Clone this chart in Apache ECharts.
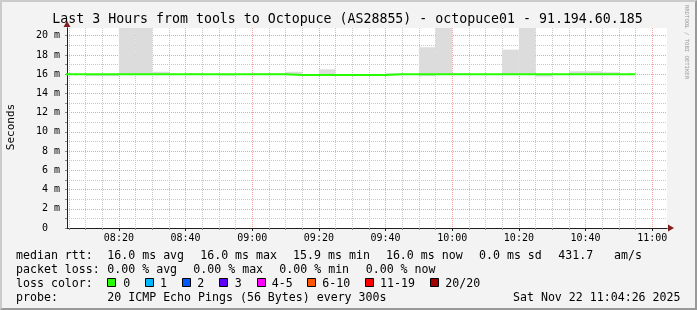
<!DOCTYPE html>
<html><head><meta charset="utf-8">
<script src="https://cdn.jsdelivr.net/npm/echarts@6/dist/echarts.min.js"></script>
<style>
html,body{margin:0;padding:0;}
#bg{position:absolute;left:0;top:0;width:697px;height:310px;box-sizing:border-box;background:#f3f3f3;border-top:2px solid #cbcbcb;border-left:2px solid #cbcbcb;border-right:2px solid #999;border-bottom:2px solid #999;}
#chart{position:absolute;left:0;top:0;width:697px;height:310px;}
</style></head><body><div id="bg"></div><div id="chart"></div>
<script>
// ---- data ----
const binTimes = ['08:00','08:05','08:10','08:15','08:20','08:25','08:30','08:35','08:40','08:45','08:50','08:55',
  '09:00','09:05','09:10','09:15','09:20','09:25','09:30','09:35','09:40','09:45','09:50','09:55',
  '10:00','10:05','10:10','10:15','10:20','10:25','10:30','10:35','10:40','10:45','10:50'];
const medianRtt = [16.0,16.0,16.0,16.0,16.0,16.0,16.0,16.0,16.0,16.0,16.0,16.0,
  16.0,16.0,15.9,15.9,15.9,15.9,15.9,15.9,16.0,16.0,16.0,16.0,
  16.0,16.0,16.0,16.0,16.0,16.0,16.0,16.0,16.0,16.0,16.0];
const smokeLow = [16.0,16.0,15.8,15.8,15.9,15.9,16.0,16.0,16.0,16.0,15.85,16.0,
  16.0,16.0,15.9,15.9,15.9,15.9,15.9,15.85,16.0,16.0,15.8,16.0,
  16.0,16.0,16.0,15.9,16.0,15.75,16.0,16.0,16.0,16.0,16.0];
const smokeHigh = [16.0,16.0,16.0,16.0,22.0,22.0,16.25,16.0,16.1,16.0,16.0,16.0,
  16.1,16.1,16.25,15.9,16.5,15.9,15.9,15.9,16.1,16.0,18.8,22.0,
  16.1,16.0,16.0,18.55,22.0,16.0,16.0,16.3,16.3,16.2,16.0];
const dataEnd = '10:55';
const viewStart = '08:04:26', viewEnd = '11:04:26';
const xTickLabels = ['08:20','08:40','09:00','09:20','09:40','10:00','10:20','10:40','11:00'];
const yTickLabels = [0,2,4,6,8,10,12,14,16,18,20];
const yMax = 20.8;
const titleText = 'Last 3 Hours from tools to Octopuce (AS28855) - octopuce01 - 91.194.60.185';
const rttStats = ['16.0','16.0','15.9','16.0']; // avg max min now
const rttSd = '0.0', amPerS = '431.7';
const lossStats = ['0.00','0.00','0.00','0.00'];
const lossLabels = ['0','1','2','3','4-5','6-10','11-19','20/20'];
const lossColors = ['#26ff00','#00b8ff','#0059ff','#5e00ff','#ff00ff','#ff5500','#ff0000','#a00000'];
const probeText = '20 ICMP Echo Pings (56 Bytes) every 300s';
const stampText = 'Sat Nov 22 11:04:26 2025';

// ---- helpers ----
function toMin(s){const p=s.split(':').map(Number);return p[0]*60+p[1]+(p[2]||0)/60;}
function fmt(v){const h=Math.floor(v/60+1e-6), m=Math.round(v-h*60);return String(h).padStart(2,'0')+':'+String(m).padStart(2,'0');}
const xMin = toMin(viewStart), xMax = toMin(viewEnd);
const majorX = xTickLabels.map(toMin);
const minorX = [];
for (let v = Math.ceil(xMin/5)*5; v <= xMax; v += 5) if (majorX.indexOf(v) < 0) minorX.push(v);
const majorY = yTickLabels;
const minorY = [];
for (let v = 1; v < yMax; v += 2) minorY.push(v);

const MONO = 'DejaVu Sans Mono';
const FS = 11.6;
const smokeData = binTimes.map((t,i)=>[toMin(t), i+1<binTimes.length?toMin(binTimes[i+1]):toMin(dataEnd), smokeLow[i], smokeHigh[i]]);
const lineData = binTimes.map((t,i)=>[toMin(t), medianRtt[i]]);
lineData.push([toMin(dataEnd), medianRtt[medianRtt.length-1]]);

function txt(text, x, y, align){
  return {type:'text', x:x, y:y, silent:true, style:{text:text, fontFamily:MONO, fontSize:FS, fill:'#000', align:align||'left', verticalAlign:'middle'}};
}
const g = [];
g.push({type:'text', x:347.5, y:20, silent:true, style:{text:titleText, fontFamily:MONO, fontSize:13.25, fill:'#000', align:'center', verticalAlign:'middle'}});
g.push({type:'text', x:11.5, y:127, rotation:Math.PI/2, silent:true, style:{text:'Seconds', fontFamily:MONO, fontSize:11, fill:'#000', align:'center', verticalAlign:'middle'}});
g.push({type:'text', x:686, y:5, rotation:-Math.PI/2, silent:true, style:{text:'RRDTOOL / TOBI OETIKER', fontFamily:MONO, fontSize:5.6, fill:'#999', align:'left', verticalAlign:'middle'}});
const L1=255.5, L2=269.5, L3=283.5, L4=297.5;
g.push(txt('median rtt:',16,L1));
g.push(txt(rttStats[0]+' ms avg',107.3,L1));
g.push(txt(rttStats[1]+' ms max',200.2,L1));
g.push(txt(rttStats[2]+' ms min',293.1,L1));
g.push(txt(rttStats[3]+' ms now',385.9,L1));
g.push(txt(rttSd+' ms sd',479,L1));
g.push(txt(amPerS,558.3,L1));
g.push(txt('am/s',614,L1));
g.push(txt('packet loss:',16,L2));
g.push(txt(lossStats[0]+' % avg',107.3,L2));
g.push(txt(lossStats[1]+' % max',193.3,L2));
g.push(txt(lossStats[2]+' % min',279.3,L2));
g.push(txt(lossStats[3]+' % now',365.7,L2));
g.push(txt('loss color:',16,L3));
const boxX = [107.3,145.3,182,219.3,256.7,307.3,365.3,430.3];
const labX = [123.3,160,197.3,234.7,271.7,322.3,380,445.3];
lossLabels.forEach((l,i)=>{
  g.push({type:'rect', silent:true, shape:{x:Math.round(boxX[i])+0.5, y:278.5, width:8, height:8}, style:{fill:lossColors[i], stroke:'#000', lineWidth:1}});
  g.push(txt(l,labX[i],L3));
});
g.push(txt('probe:',16,L4));
g.push(txt(probeText,107.3,L4));
g.push(txt(stampText,680.5,L4,'right'));

const AXC = '#1f1f1f', ARROW = '#7f1f1f';
const chart = echarts.init(document.getElementById('chart'), null, {renderer:'canvas'});
chart.setOption({
  animation:false,
  backgroundColor:'transparent',
  grid:{left:67, top:28, width:600, height:200, show:true, backgroundColor:'#ffffff', borderWidth:0},
  xAxis:[
    {type:'value', min:xMin, max:xMax, position:'bottom',
     axisLine:{show:true, symbol:['none','triangle'], symbolSize:[7,6], symbolOffset:[0,4], lineStyle:{color:ARROW, width:1}},
     axisTick:{show:true, customValues:minorX, length:2, inside:false, lineStyle:{color:'#888'}},
     axisLabel:{show:false},
     splitLine:{show:true, lineStyle:{color:'#c8c8c8', type:'dotted', width:1}}},
    {type:'value', min:xMin, max:xMax, position:'bottom',
     axisLine:{show:true, lineStyle:{color:AXC, width:1}},
     axisTick:{show:true, customValues:majorX, length:3, lineStyle:{color:AXC}},
     axisLabel:{customValues:majorX, formatter:fmt, fontFamily:MONO, fontSize:10, color:'#000', margin:5},
     splitLine:{show:true, lineStyle:{color:'#f0a0a0', type:'dotted', width:1}}}
  ],
  yAxis:[
    {type:'value', min:0, max:yMax, position:'left',
     axisLine:{show:true, symbol:['none','triangle'], symbolSize:[7,6], symbolOffset:[0,4], lineStyle:{color:ARROW, width:1}},
     axisTick:{show:true, customValues:minorY, length:2, lineStyle:{color:'#888'}},
     axisLabel:{show:false},
     splitLine:{show:true, lineStyle:{color:'#c8c8c8', type:'dotted', width:1}}},
    {type:'value', min:0, max:yMax, position:'left',
     axisLine:{show:true, lineStyle:{color:AXC, width:1}},
     axisTick:{show:true, customValues:majorY, length:2, lineStyle:{color:'#888'}},
     axisLabel:{customValues:majorY, formatter:v=>v===0?'0  ':v+' m', fontFamily:MONO, fontSize:10, color:'#000', margin:7, padding:[3,0,0,0]},
     splitLine:{show:true, lineStyle:{color:'#f0a0a0', type:'dotted', width:1}}}
  ],
  series:[
    {type:'custom', xAxisIndex:0, yAxisIndex:0, data:smokeData, encode:{x:[0,1], y:[2,3]}, z:3, silent:true,
     renderItem:function(params, api){
       const p0 = api.coord([api.value(0), api.value(3)]);
       const p1 = api.coord([api.value(1), api.value(2)]);
       const cs = params.coordSys;
       const r = echarts.graphic.clipRectByRect({x:p0[0], y:p0[1], width:p1[0]-p0[0], height:p1[1]-p0[1]}, {x:cs.x, y:cs.y, width:cs.width, height:cs.height});
       return r ? {type:'rect', shape:r, style:{fill:'#dcdcdc'}} : null;
     }},
    {type:'line', xAxisIndex:0, yAxisIndex:0, data:lineData, step:'end', symbol:'none', z:4, silent:true,
     lineStyle:{color:'#26ff00', width:2}}
  ],
  graphic:g
});
</script></body></html>
